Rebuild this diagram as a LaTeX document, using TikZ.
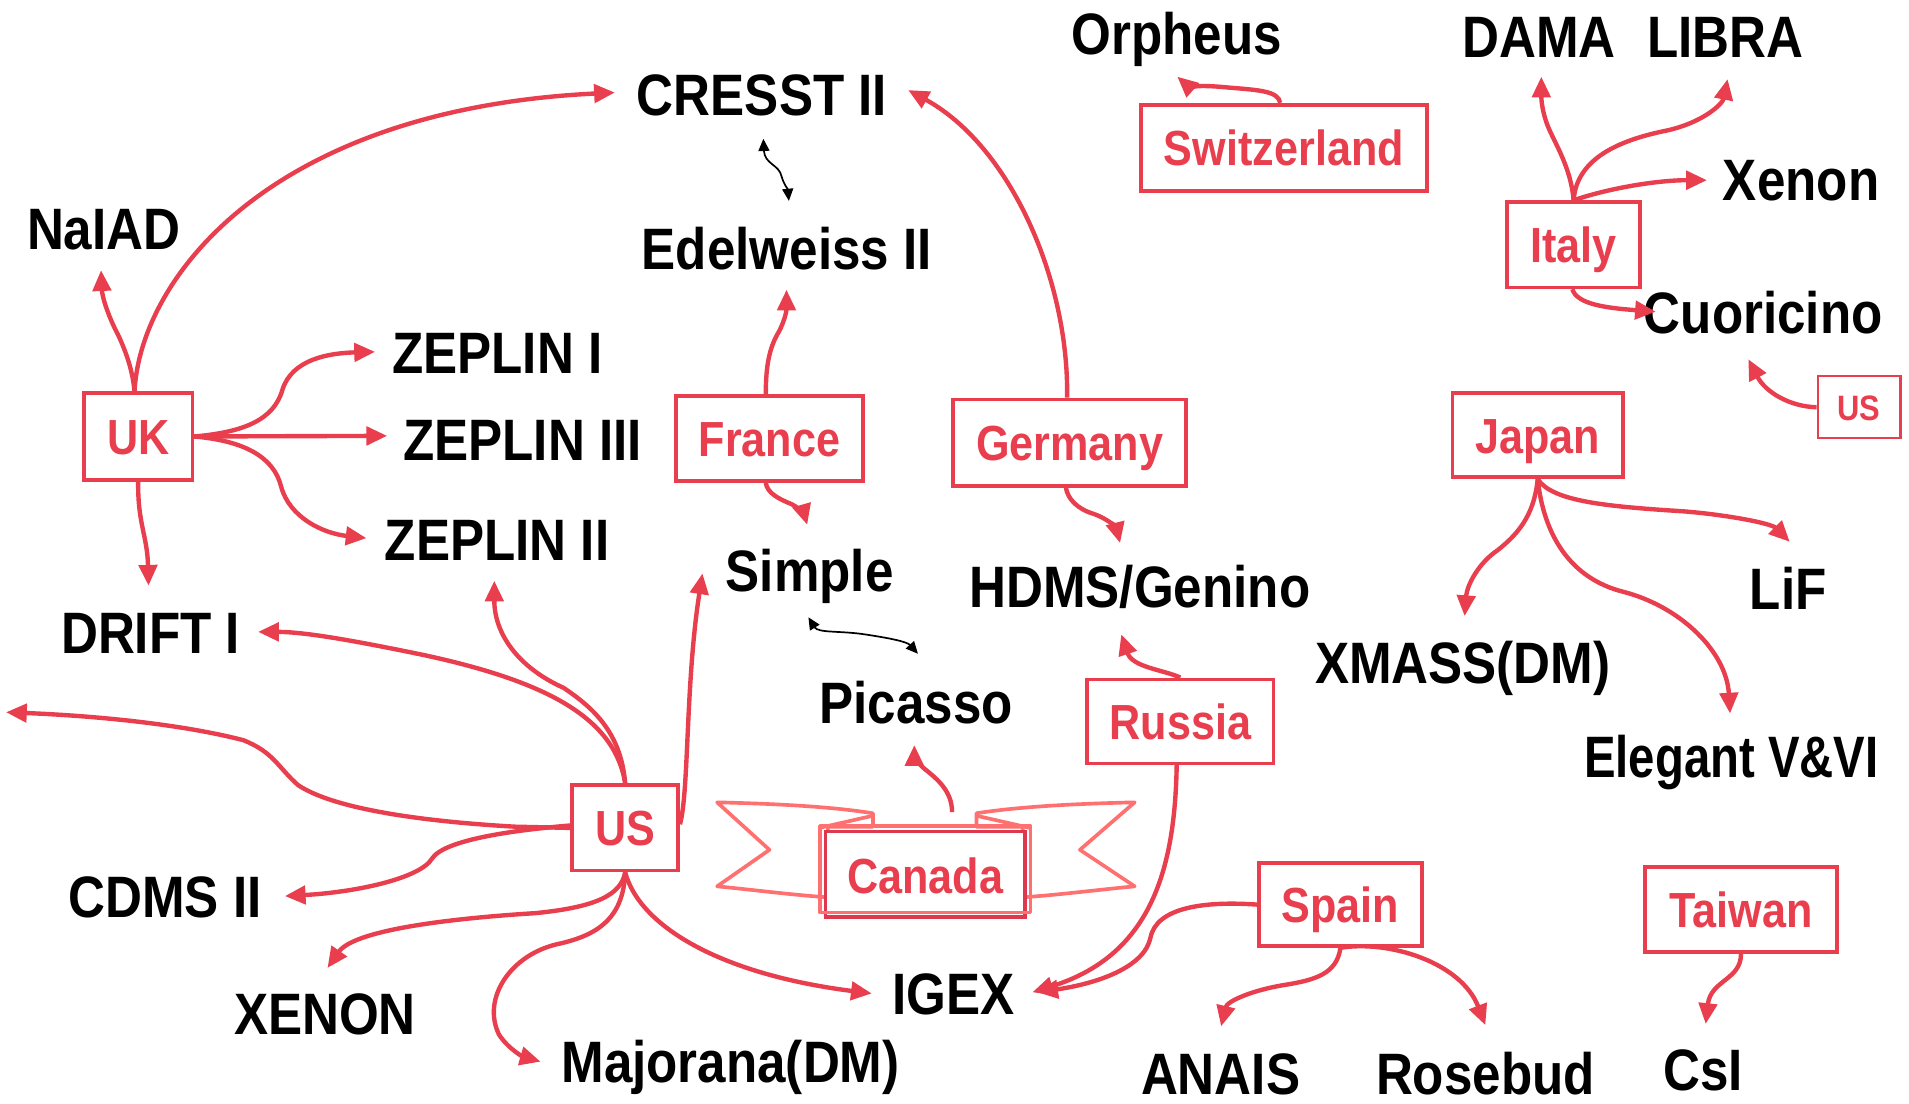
\documentclass[tikz,border=0pt]{standalone}
\usepackage{fontspec}
\setmainfont{Liberation Sans}[FakeStretch=0.875]
\usetikzlibrary{arrows.meta}
\definecolor{rd}{RGB}{232,62,78}
\definecolor{pk}{RGB}{255,112,112}
\definecolor{rdbox}{RGB}{222,56,78}
\tikzset{
  lbl/.style={anchor=base west, inner sep=0pt, font=\fontsize{48}{48}\selectfont\bfseries, text=black},
  cbox/.style={draw=rd, line width=3pt, text=rd, font=\fontsize{40.5}{40.5}\selectfont\bfseries, inner sep=0pt, text height=29.5pt, text depth=0pt},
  ar/.style={draw=rd, line width=3.6pt, -{Triangle[length=17pt,width=15pt]}},
  bar/.style={draw=black, line width=1.4pt, {Triangle[length=10pt,width=9pt]}-{Triangle[length=10pt,width=9pt]}},
  rib/.style={draw=pk, line width=3pt, line join=round}
}
\begin{document}
\begin{tikzpicture}[x=1pt,y=-1pt]
\useasboundingbox (0,0) rectangle (1568,906);
\fill[white] (0,0) rectangle (1568,906);

% ---- text labels ----
\node[lbl] (naiad) at (22,205) {NaIAD};
\node[lbl] (cresst) at (523,95) {CRESST II};
\node[lbl] (edel) at (527,221) {Edelweiss II};
\node[lbl] (zep1) at (322,307) {ZEPLIN I};
\node[lbl] (zep3) at (331,378) {ZEPLIN III};
\node[lbl] (zep2) at (316,460) {ZEPLIN II};
\node[lbl] (drift) at (50,537) {DRIFT I};
\node[lbl] (simple) at (596,486) {Simple};
\node[lbl] (hdms) at (796,499) {HDMS/Genino};
\node[lbl] (picasso) at (673,594) {Picasso};
\node[lbl] (cdms) at (56,754) {CDMS II};
\node[lbl] (xenonb) at (192,850) {XENON};
\node[lbl] (major) at (461,889) {Majorana(DM)};
\node[lbl] (igex) at (733,833) {IGEX};
\node[lbl] (anais) at (937,899) {ANAIS};
\node[lbl] (rosebud) at (1130,899) {Rosebud};
\node[lbl] (csi) at (1366,896) {CsI};
\node[lbl] (orpheus) at (880,45) {Orpheus};
\node[lbl] (dama) at (1201,47) {DAMA};
\node[lbl] (libra) at (1353,47) {LIBRA};
\node[lbl] (xenon) at (1415,165) {Xenon};
\node[lbl] (cuor) at (1350,274) {Cuoricino};
\node[lbl] (lif) at (1437,501) {LiF};
\node[lbl] (xmass) at (1080,561) {XMASS(DM)};
\node[lbl] (elegant) at (1301,639) {\scalebox{0.925}[1]{Elegant V\&VI}};

% ---- Canada ribbon ----
\draw[rib, fill=white] (717,679) -- (717,668) .. controls (680,662) and (630,660) .. (589,659) -- (632,698) -- (589,728) .. controls (620,731) and (650,735) .. (680,737) -- (680,679) -- cycle;
\draw[rib] (673,680) -- (717,670);
\draw[rib, fill=white] (802,679) -- (802,668) .. controls (840,662) and (890,660) .. (932,659) -- (887,698) -- (932,728) .. controls (900,731) and (870,735) .. (840,737) -- (840,679) -- cycle;
\draw[rib] (802,670) -- (846,680);
\draw[draw=rdbox, line width=3pt, fill=white] (678,683) rectangle (842,753);
\draw[rib] (673.5,678.5) rectangle (846.5,749.5);
\node[text=rd, font=\fontsize{40.5}{40.5}\selectfont\bfseries, inner sep=0pt, text height=29.5pt, text depth=0pt] (canada) at (760,719) {Canada};

% ---- country boxes ----
\node[cbox, minimum width=89pt, minimum height=71pt] (uk) at (113.5,358.5) {UK};
\node[cbox, minimum width=154pt, minimum height=70pt] (france) at (632,360) {France};
\node[cbox, minimum width=191pt, minimum height=71pt] (germany) at (878.5,363.5) {Germany};
\node[cbox, minimum width=235pt, minimum height=71pt] (swiss) at (1054.5,121.5) {Switzerland};
\node[cbox, minimum width=109pt, minimum height=70pt] (italy) at (1292.5,201) {Italy};
\node[cbox, line width=1.8pt, minimum width=68pt, minimum height=51pt, font=\fontsize{29}{29}\selectfont\bfseries, text height=21pt] (ussmall) at (1527,334.5) {US};
\node[cbox, minimum width=140pt, minimum height=69pt] (japan) at (1263,357.5) {Japan};
\node[cbox, minimum width=153pt, minimum height=69pt] (russia) at (969.5,592.5) {Russia};
\node[cbox, minimum width=87pt, minimum height=70pt] (us) at (513.5,680) {US};
\node[cbox, minimum width=134pt, minimum height=68pt] (spain) at (1101,743) {Spain};
\node[cbox, minimum width=158pt, minimum height=70pt] (taiwan) at (1430,747) {Taiwan};

% ---- arrow tips ----
\coordinate (tNaiad) at (83,222);
\coordinate (tCresstL) at (505,76);
\coordinate (tZep1) at (308,289);
\coordinate (tZep3) at (318,358);
\coordinate (tZep2) at (301,442);
\coordinate (tDrift) at (122,481);
\coordinate (tEdel) at (646,238);
\coordinate (tSimpleF) at (663,431);
\coordinate (tCresstR) at (746,74);
\coordinate (tHdmsG) at (920,446);
\coordinate (tOrph) at (967,63);
\coordinate (tDama) at (1266,63);
\coordinate (tLibra) at (1419,65);
\coordinate (tXenon) at (1402,148);
\coordinate (tCuorI) at (1360,256);
\coordinate (tCuorU) at (1436,295);
\coordinate (tXmass) at (1203,506);
\coordinate (tLif) at (1470,445);
\coordinate (tEleg) at (1421,586);
\coordinate (tHdmsR) at (921,521);
\coordinate (tIgexR) at (848,815);
\coordinate (tIgexS) at (852,815);
\coordinate (tAnais) at (1003,843);
\coordinate (tRose) at (1220,842);
\coordinate (tCsi) at (1401,841);
\coordinate (tPic) at (751,612);
\coordinate (tZep2U) at (406,477);
\coordinate (tDriftU) at (212,519);
\coordinate (tLeft) at (5,585);
\coordinate (tCdms) at (234,736);
\coordinate (tXenonB) at (269,795);
\coordinate (tMajor) at (444,872);
\coordinate (tIgexU) at (716,816);
\coordinate (tSimpleU) at (577,471);

% ---- UK ----
\draw[ar] ([xshift=-3pt]uk.north) .. controls (109,305) and (104,290) .. (97,275) .. controls (90,262) and (84,245) .. (tNaiad);
\draw[ar] ([xshift=-3pt]uk.north) .. controls (115,230) and (220,90) .. (tCresstL);
\draw[ar] (uk.east) .. controls (200,355) and (225,345) .. (232,320) .. controls (240,295) and (270,290) .. (tZep1);
\draw[ar] (uk.east) -- (tZep3);
\draw[ar] (uk.east) .. controls (200,362) and (225,375) .. (231,400) .. controls (238,425) and (265,438) .. (tZep2);
\draw[ar] (uk.south) .. controls (113,430) and (121,440) .. (tDrift);

% ---- France ----
\draw[ar] ([xshift=-3pt]france.north) .. controls (629,300) and (632,285) .. (640,272) .. controls (645,262) and (646,255) .. (tEdel);
\draw[ar] ([xshift=-3pt]france.south) .. controls (630,405) and (640,410) .. (650,414) .. controls (658,418) and (661,424) .. (tSimpleF);

% ---- Germany ----
\draw[ar] ([xshift=-2pt]germany.north) .. controls (878,230) and (830,120) .. (tCresstR);
\draw[ar] ([xshift=-3pt]germany.south) .. controls (877,410) and (885,418) .. (898,422) .. controls (910,426) and (917,434) .. (tHdmsG);

% ---- black double arrows ----
\draw[bar] (627,114) .. controls (628,135) and (640,135) .. (642,145) .. controls (644,152) and (647,155) .. (648,165);
\draw[bar] (664,507) .. controls (672,520) and (690,518) .. (710,521) .. controls (730,524) and (745,527) .. (754,537);

% ---- Switzerland ----
\draw[ar] ([xshift=-3pt]swiss.north) .. controls (1050,75) and (1035,74) .. (1010,72) .. controls (990,70) and (975,70) .. (tOrph);

% ---- Italy ----
\draw[ar] (italy.north) .. controls (1290,135) and (1275,115) .. (1270,100) .. controls (1266,88) and (1266,80) .. (tDama);
\draw[ar] (italy.north) .. controls (1295,130) and (1330,115) .. (1370,107) .. controls (1400,100) and (1415,85) .. (tLibra);
\draw[ar] (italy.north) .. controls (1320,155) and (1360,148) .. (tXenon);
\draw[ar] ([xshift=-1pt]italy.south) .. controls (1295,250) and (1320,253) .. (tCuorI);

% ---- US (small) ----
\draw[ar] (ussmall.west) .. controls (1470,334) and (1450,322) .. (tCuorU);

% ---- Japan ----
\draw[ar] (japan.south) .. controls (1260,425) and (1245,440) .. (1230,452) .. controls (1215,462) and (1205,480) .. (tXmass);
\draw[ar] (japan.south) .. controls (1275,412) and (1320,416) .. (1383,420) .. controls (1420,423) and (1455,430) .. (tLif);
\draw[ar] (japan.south) .. controls (1268,440) and (1290,475) .. (1333,486) .. controls (1380,498) and (1418,535) .. (tEleg);

% ---- Russia ----
\draw[ar] (russia.north) .. controls (955,550) and (930,548) .. (tHdmsR);
\draw[ar] ([xshift=-3pt]russia.south) .. controls (965,715) and (945,785) .. (tIgexR);

% ---- Spain ----
\draw[ar] (spain.west) .. controls (990,740) and (950,745) .. (945,770) .. controls (940,795) and (900,808) .. (tIgexS);
\draw[ar] (spain.south) .. controls (1098,800) and (1080,805) .. (1055,809) .. controls (1030,813) and (1008,822) .. (tAnais);
\draw[ar] (spain.south) .. controls (1140,772) and (1200,790) .. (tRose);

% ---- Taiwan ----
\draw[ar] (taiwan.south) .. controls (1430,805) and (1405,805) .. (tCsi);

% ---- Canada ----
\draw[ar] (782,667) .. controls (782,650) and (770,640) .. (760,632) .. controls (754,627) and (751,622) .. (tPic);

% ---- US ----
\draw[ar] (us.north) .. controls (510,600) and (485,580) .. (463,565) .. controls (425,548) and (406,520) .. (tZep2U);
\draw[ar] (us.north) .. controls (505,590) and (450,560) .. (348,538) .. controls (290,526) and (250,519) .. (tDriftU);
\draw[ar] (us.west) -- (423,679) .. controls (370,676) and (280,668) .. (245,645) .. controls (228,630) and (225,618) .. (200,608) .. controls (150,595) and (80,588) .. (tLeft);
\draw[ar] ([yshift=2pt]us.west) .. controls (420,682) and (365,690) .. (355,705) .. controls (345,722) and (290,733) .. (tCdms);
\draw[ar] (us.south) .. controls (510,735) and (490,745) .. (440,750) .. controls (360,755) and (290,765) .. (tXenonB);
\draw[ar] (us.south) .. controls (512,755) and (490,768) .. (460,775) .. controls (420,783) and (395,820) .. (410,850) .. controls (418,862) and (430,868) .. (tMajor);
\draw[ar] (us.south) .. controls (525,760) and (590,800) .. (tIgexU);
\draw[ar] ([yshift=3pt]us.east) .. controls (566,650) and (563,560) .. (tSimpleU);
\end{tikzpicture}
\end{document}
